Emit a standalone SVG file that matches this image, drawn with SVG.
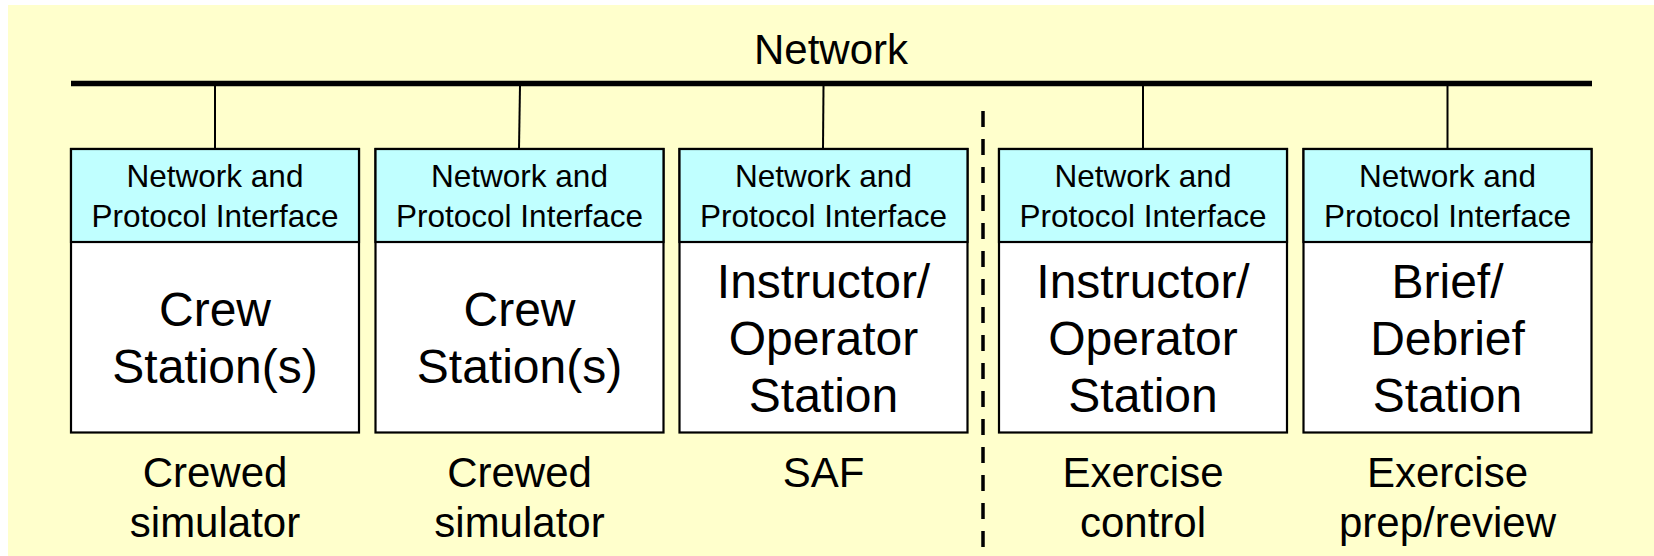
<svg xmlns="http://www.w3.org/2000/svg" width="1654" height="556" viewBox="0 0 1654 556">
  <style>
    .bg { fill: #FFFFCC; }
    .hdr { fill: #C0FFFF; stroke: #000; stroke-width: 2.2; }
    .body { fill: #FFFFFF; stroke: #000; stroke-width: 2.2; }
    .tap { stroke: #000; stroke-width: 2; fill: none; }
    .bus { stroke: #000; stroke-width: 5.5; fill: none; }
    .sep { stroke: #000; stroke-width: 3.5; stroke-dasharray: 16 12; fill: none; }
    text { font-family: "Liberation Sans", Arial, sans-serif; fill: #000; text-anchor: middle; }
    .title { font-size: 42px; }
    .iface { font-size: 31.5px; }
    .main { font-size: 48px; }
    .cap { font-size: 42px; }
  </style>

  <rect class="bg" x="8" y="5" width="1646" height="551"/>

  <!-- network bus, taps and the dashed divider -->
  <g id="connectors">
    <text class="title" x="831" y="64">Network</text>
    <line class="bus" x1="71" y1="83.5" x2="1592" y2="83.5"/>
    <line class="tap" x1="215" y1="86" x2="215" y2="149"/>
    <line class="tap" x1="520" y1="86" x2="519" y2="149"/>
    <line class="tap" x1="823.5" y1="86" x2="823" y2="149"/>
    <line class="tap" x1="1143" y1="86" x2="1143" y2="149"/>
    <line class="tap" x1="1447.5" y1="86" x2="1447.5" y2="149"/>
    <line class="sep" x1="983" y1="111" x2="983" y2="556"/>
  </g>

  <g id="crew1">
    <rect class="body" x="71" y="149" width="288" height="283.5"/>
    <rect class="hdr" x="71" y="149" width="288" height="93"/>
    <text class="iface" x="215" y="187">Network and</text>
    <text class="iface" x="215" y="227">Protocol Interface</text>
    <text class="main" x="215" y="326">Crew</text>
    <text class="main" x="215" y="383">Station(s)</text>
    <text class="cap" x="215" y="487">Crewed</text>
    <text class="cap" x="215" y="537">simulator</text>
  </g>

  <g id="crew2">
    <rect class="body" x="375.5" y="149" width="288" height="283.5"/>
    <rect class="hdr" x="375.5" y="149" width="288" height="93"/>
    <text class="iface" x="519.5" y="187">Network and</text>
    <text class="iface" x="519.5" y="227">Protocol Interface</text>
    <text class="main" x="519.5" y="326">Crew</text>
    <text class="main" x="519.5" y="383">Station(s)</text>
    <text class="cap" x="519.5" y="487">Crewed</text>
    <text class="cap" x="519.5" y="537">simulator</text>
  </g>

  <g id="saf">
    <rect class="body" x="679.5" y="149" width="288" height="283.5"/>
    <rect class="hdr" x="679.5" y="149" width="288" height="93"/>
    <text class="iface" x="823.5" y="187">Network and</text>
    <text class="iface" x="823.5" y="227">Protocol Interface</text>
    <text class="main" x="823.5" y="298">Instructor/</text>
    <text class="main" x="823.5" y="355">Operator</text>
    <text class="main" x="823.5" y="412">Station</text>
    <text class="cap" x="823.5" y="487">SAF</text>
  </g>

  <g id="exercise-control">
    <rect class="body" x="999" y="149" width="288" height="283.5"/>
    <rect class="hdr" x="999" y="149" width="288" height="93"/>
    <text class="iface" x="1143" y="187">Network and</text>
    <text class="iface" x="1143" y="227">Protocol Interface</text>
    <text class="main" x="1143" y="298">Instructor/</text>
    <text class="main" x="1143" y="355">Operator</text>
    <text class="main" x="1143" y="412">Station</text>
    <text class="cap" x="1143" y="487">Exercise</text>
    <text class="cap" x="1143" y="537">control</text>
  </g>

  <g id="brief-debrief">
    <rect class="body" x="1303.5" y="149" width="288" height="283.5"/>
    <rect class="hdr" x="1303.5" y="149" width="288" height="93"/>
    <text class="iface" x="1447.5" y="187">Network and</text>
    <text class="iface" x="1447.5" y="227">Protocol Interface</text>
    <text class="main" x="1447.5" y="298">Brief/</text>
    <text class="main" x="1447.5" y="355">Debrief</text>
    <text class="main" x="1447.5" y="412">Station</text>
    <text class="cap" x="1447.5" y="487">Exercise</text>
    <text class="cap" x="1447.5" y="537">prep/review</text>
  </g>
</svg>
